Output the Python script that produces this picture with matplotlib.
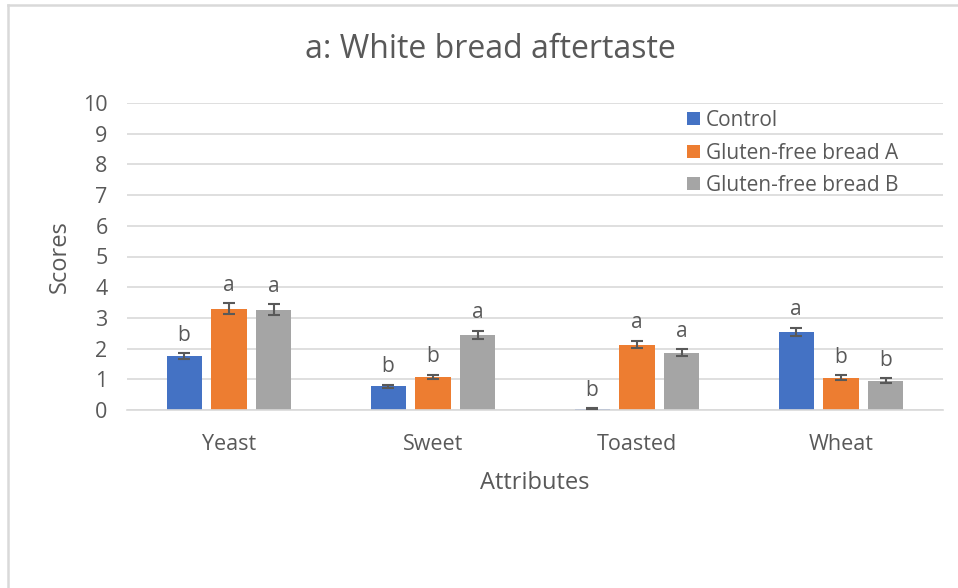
import matplotlib
matplotlib.use("Agg")
import matplotlib.pyplot as plt
import numpy as np
from matplotlib.lines import Line2D

plt.rcParams['font.family'] = ['Open Sans', 'DejaVu Sans']

categories = ["Yeast", "Sweet", "Toasted", "Wheat"]
series_names = ["Control", "Gluten-free bread A", "Gluten-free bread B"]
control = [1.76, 0.78, 0.04, 2.54]
gf_a = [3.30, 1.08, 2.13, 1.05]
gf_b = [3.26, 2.44, 1.87, 0.96]
control_err = [0.09, 0.05, 0.01, 0.14]
gf_a_err = [0.18, 0.07, 0.12, 0.08]
gf_b_err = [0.18, 0.14, 0.11, 0.07]
control_letters = ["b", "b", "b", "a"]
gf_a_letters = ["a", "b", "a", "b"]
gf_b_letters = ["a", "a", "a", "b"]

colors = ["#4472C4", "#ED7D31", "#A5A5A5"]
text_color = "#595959"
grid_color = "#D9D9D9"

W, H = 958, 588
fig = plt.figure(figsize=(W / 100, H / 100), dpi=100)
ax = fig.add_axes([127 / W, 1 - 410 / H, (943 - 127) / W, (410 - 103) / H])

x = np.arange(len(categories))
pitch = 0.22
width = 0.172
vals = [control, gf_a, gf_b]
errs = [control_err, gf_a_err, gf_b_err]
letters = [control_letters, gf_a_letters, gf_b_letters]

handles = []
for i in range(3):
    pos = x + (i - 1) * pitch
    b = ax.bar(pos, vals[i], width, color=colors[i], zorder=2, label=series_names[i])
    handles.append(b)
    ax.errorbar(pos, vals[i], yerr=errs[i], fmt='none', ecolor=text_color,
                elinewidth=1.5, capsize=4, capthick=1.5, zorder=3)
    for p, v, e, l in zip(pos, vals[i], errs[i], letters[i]):
        ax.annotate(l, (p, v + e), xytext=(0, 9), textcoords='offset points',
                    ha='center', va='baseline', fontsize=15, color=text_color)

ax.set_xlim(-0.5, 3.5)
ax.set_ylim(0, 10)
ax.set_yticks(range(0, 11))
ax.set_xticks(x)
ax.set_xticklabels(categories)
ax.yaxis.grid(True, color=grid_color, linewidth=1.2, zorder=0)
ax.set_axisbelow(True)
for s in ["top", "right", "left"]:
    ax.spines[s].set_visible(False)
ax.spines["bottom"].set_color(grid_color)
ax.spines["bottom"].set_linewidth(1.2)
ax.tick_params(axis='both', length=0, labelsize=15.5, colors=text_color)
ax.tick_params(axis='y', pad=14)
ax.tick_params(axis='x', pad=17)

ax.set_xlabel("Attributes", fontsize=17, color=text_color, labelpad=12)
ax.set_ylabel("Scores", fontsize=17, color=text_color, labelpad=8)

fig.text(490 / W, 1 - 50 / H, "a: White bread aftertaste", ha='center', va='center',
         fontsize=23, color=text_color)

leg = ax.legend(handles=handles, loc='upper left', bbox_to_anchor=((679 - 127) / (943 - 127), 1.004),
                frameon=False, fontsize=15, labelcolor=text_color, handlelength=0.6,
                handleheight=0.6, handletextpad=0.3, labelspacing=0.55, borderaxespad=0.0)

fig.add_artist(Line2D([8 / W, 8 / W], [0, 1 - 5 / H], color="#D9D9D9", lw=1.8, transform=fig.transFigure))
fig.add_artist(Line2D([8 / W, 1], [1 - 5 / H, 1 - 5 / H], color="#D9D9D9", lw=1.8, transform=fig.transFigure))

fig.savefig("out.png", dpi=100)
